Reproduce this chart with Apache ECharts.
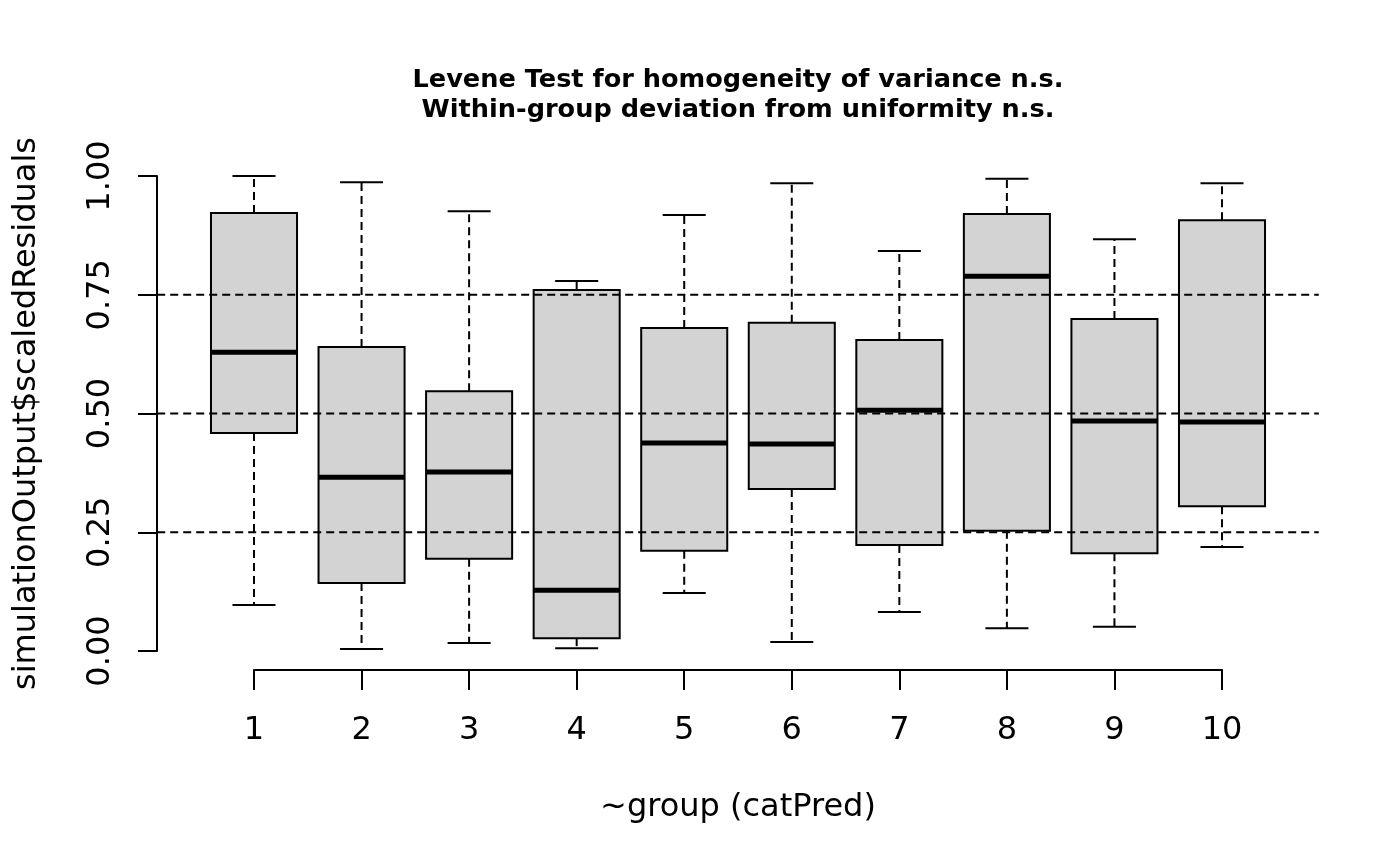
<!DOCTYPE html>
<html>
<head>
<meta charset="utf-8">
<script src="https://cdn.jsdelivr.net/npm/echarts@6/dist/echarts.min.js"></script>
<style>html,body{margin:0;padding:0;background:#fff;}#c{width:1400px;height:866px;}</style>
</head>
<body>
<div id="c"></div>
<script>
// ---- data ----
const groups = [1, 2, 3, 4, 5, 6, 7, 8, 9, 10];
const whiskerLow  = [0.097, 0.004, 0.017, 0.006, 0.122, 0.019, 0.082, 0.048, 0.051, 0.219];
const q1          = [0.459, 0.143, 0.194, 0.027, 0.211, 0.341, 0.223, 0.253, 0.206, 0.305];
const medians     = [0.629, 0.366, 0.377, 0.128, 0.438, 0.436, 0.507, 0.789, 0.484, 0.482];
const q3          = [0.922, 0.640, 0.547, 0.760, 0.680, 0.691, 0.655, 0.920, 0.699, 0.907];
const whiskerHigh = [1.000, 0.987, 0.926, 0.779, 0.918, 0.985, 0.842, 0.994, 0.867, 0.985];
const refLines = [0.25, 0.5, 0.75];
const yTicks = [0, 0.25, 0.5, 0.75, 1];
const titleLines = ['Levene Test for homogeneity of variance n.s.', 'Within-group deviation from uniformity n.s.'];
const xTitle = '~group (catPred)';
const yTitle = 'simulationOutput$scaledResiduals';

const boxData = groups.map((g, i) => [g, whiskerLow[i], q1[i], medians[i], q3[i], whiskerHigh[i]]);
const FONT = 'DejaVu Sans';

const chart = echarts.init(document.getElementById('c'), null, {renderer: 'canvas'});

function renderBox(params, api) {
  const x = api.value(0);
  const lo = api.value(1), a = api.value(2), m = api.value(3), b = api.value(4), hi = api.value(5);
  const pL = api.coord([x - 0.4, b]);
  const pR = api.coord([x + 0.4, a]);
  const c = api.coord([x, m]);
  const pLo = api.coord([x, lo]);
  const pHi = api.coord([x, hi]);
  const pA = api.coord([x, a]);
  const pB = api.coord([x, b]);
  const halfCap = (pR[0] - pL[0]) / 4;
  const dashStyle = {stroke: '#000', lineWidth: 2, lineDash: [8, 5]};
  const solid = {stroke: '#000', lineWidth: 2};
  return {
    type: 'group',
    children: [
      {type: 'line', shape: {x1: pA[0], y1: pA[1], x2: pLo[0], y2: pLo[1]}, style: dashStyle},
      {type: 'line', shape: {x1: pB[0], y1: pB[1], x2: pHi[0], y2: pHi[1]}, style: dashStyle},
      {type: 'line', shape: {x1: pLo[0] - halfCap, y1: pLo[1], x2: pLo[0] + halfCap, y2: pLo[1]}, style: solid},
      {type: 'line', shape: {x1: pHi[0] - halfCap, y1: pHi[1], x2: pHi[0] + halfCap, y2: pHi[1]}, style: solid},
      {type: 'rect', shape: {x: pL[0], y: pL[1], width: pR[0] - pL[0], height: pR[1] - pL[1]},
        style: {fill: '#d3d3d3', stroke: '#000', lineWidth: 2}},
      {type: 'line', shape: {x1: pL[0], y1: c[1], x2: pR[0], y2: c[1]}, style: {stroke: '#000', lineWidth: 5}}
    ]
  };
}

function renderRef(params, api) {
  const v = api.value(0);
  const p1 = api.coord([0.1, v]);
  const p2 = api.coord([10.9, v]);
  return {type: 'line', shape: {x1: p1[0], y1: p1[1], x2: p2[0], y2: p2[1]},
    style: {stroke: '#000', lineWidth: 2, lineDash: [8, 5]}};
}

chart.setOption({
  backgroundColor: '#fff',
  animation: false,
  textStyle: {fontFamily: FONT},
  graphic: [{
    type: 'text', x: 738, y: 95,
    style: {text: titleLines.join('\n'), fontFamily: FONT, fontWeight: 'bold', fontSize: 25.6, lineHeight: 30,
      align: 'center', verticalAlign: 'middle', fill: '#000'}
  }],
  grid: {left: 254, right: 178, top: 176, bottom: 215, containLabel: false},
  xAxis: {
    type: 'value', min: 1, max: 10, interval: 1, offset: 19,
    name: xTitle, nameLocation: 'middle', nameGap: 122,
    nameTextStyle: {fontFamily: FONT, fontSize: 32, color: '#000'},
    axisLine: {show: true, onZero: false, lineStyle: {color: '#000', width: 2}},
    axisTick: {show: true, length: 20, lineStyle: {color: '#000', width: 2}},
    axisLabel: {fontFamily: FONT, fontSize: 32, color: '#000', margin: 45, formatter: v => String(v)},
    splitLine: {show: false}
  },
  yAxis: {
    type: 'value', min: 0, max: 1, interval: 0.25, offset: 97,
    name: yTitle, nameLocation: 'middle', nameGap: 114, nameRotate: 90,
    nameTextStyle: {fontFamily: FONT, fontSize: 32, color: '#000'},
    axisLine: {show: true, onZero: false, lineStyle: {color: '#000', width: 2}},
    axisTick: {show: true, length: 19, lineStyle: {color: '#000', width: 2}},
    axisLabel: {fontFamily: FONT, fontSize: 32, color: '#000', margin: 40, rotate: 90,
      formatter: v => (yTicks.indexOf(v) >= 0 ? v.toFixed(2) : '')},
    splitLine: {show: false}
  },
  series: [
    {type: 'custom', name: 'boxes', renderItem: renderBox, data: boxData, clip: false, z: 2,
      encode: {x: 0, y: [1, 2, 3, 4, 5]}},
    {type: 'custom', name: 'ref', renderItem: renderRef, data: refLines.map(v => [v]), clip: false, z: 3,
      encode: {y: 0}}
  ]
});
</script>
</body>
</html>
